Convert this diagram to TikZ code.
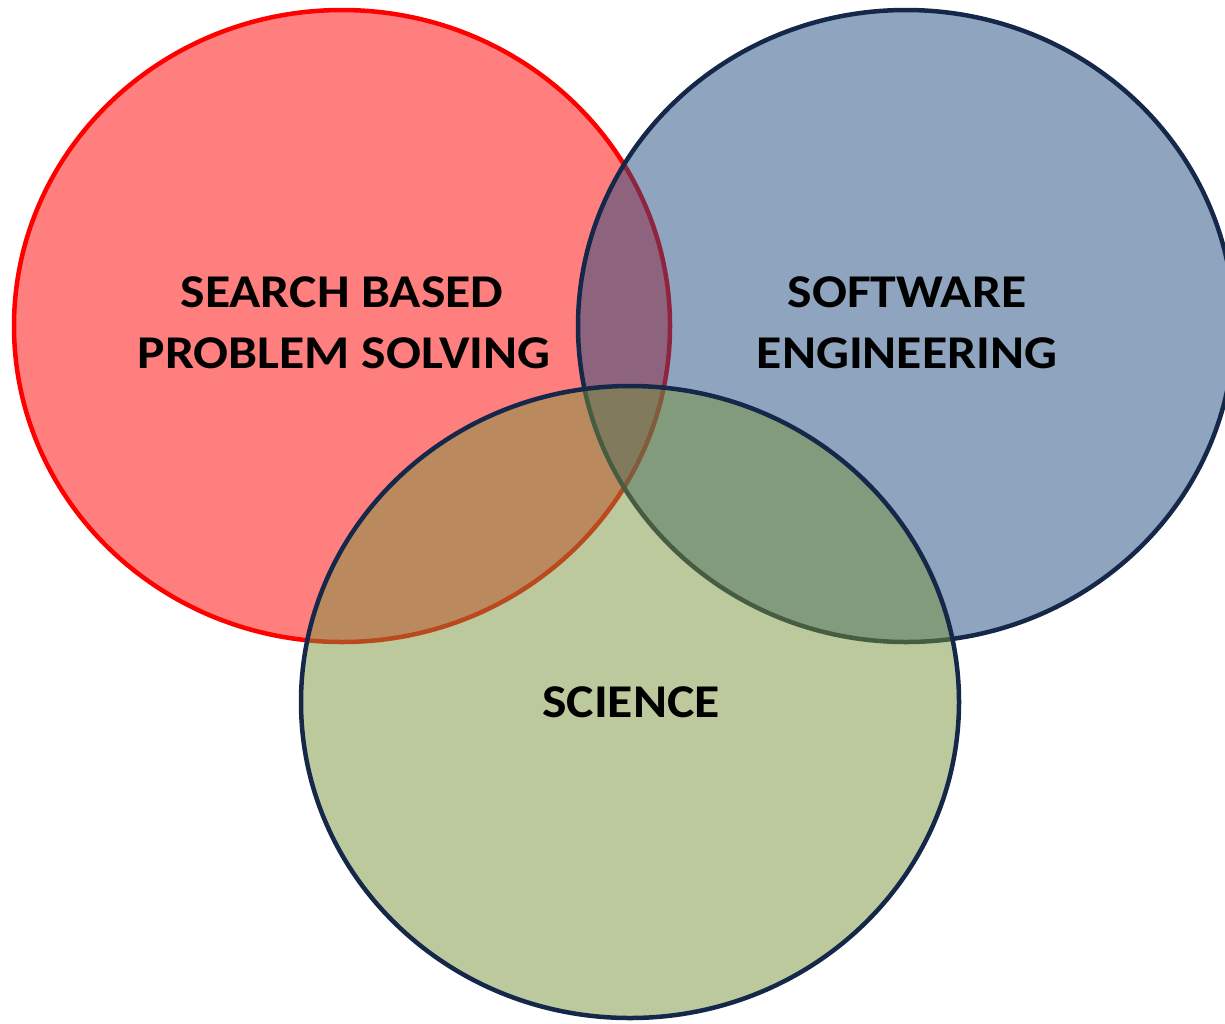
\documentclass[tikz,border=0pt]{standalone}
\usepackage{fontspec}
\setmainfont[FakeStretch=1.1]{Carlito}
\definecolor{setred}{HTML}{FF0000}
\definecolor{setblue}{HTML}{1F497D}
\definecolor{setgreen}{HTML}{77933C}
\definecolor{navyline}{HTML}{15284A}
\begin{document}
\begin{tikzpicture}[x=1pt,y=-1pt,
  setshape/.style={line width=4.5pt, fill opacity=0.5},
  setlabel/.style={anchor=base, inner sep=0pt, font=\fontsize{47}{57}\selectfont\bfseries}]
\useasboundingbox (0,0) rectangle (1225,1023);
% the three sets, drawn in order so later fills tint earlier outlines
\draw[setshape, draw=setred, fill=setred] (342,326) ellipse [x radius=328, y radius=316];
\draw[setshape, draw=navyline, fill=setblue] (906,326) ellipse [x radius=328, y radius=316];
\draw[setshape, draw=navyline, fill=setgreen] (630,702) ellipse [x radius=329, y radius=316];
% labels
\node[setlabel] (sbps1) at (342,307) {SEARCH BASED};
\node[setlabel] (sbps2) at (344,368) {PROBLEM SOLVING};
\node[setlabel] (se1) at (907,307) {SOFTWARE};
\node[setlabel] (se2) at (907,368) {ENGINEERING};
\node[setlabel] (sci) at (631,717) {SCIENCE};
\end{tikzpicture}
\end{document}
